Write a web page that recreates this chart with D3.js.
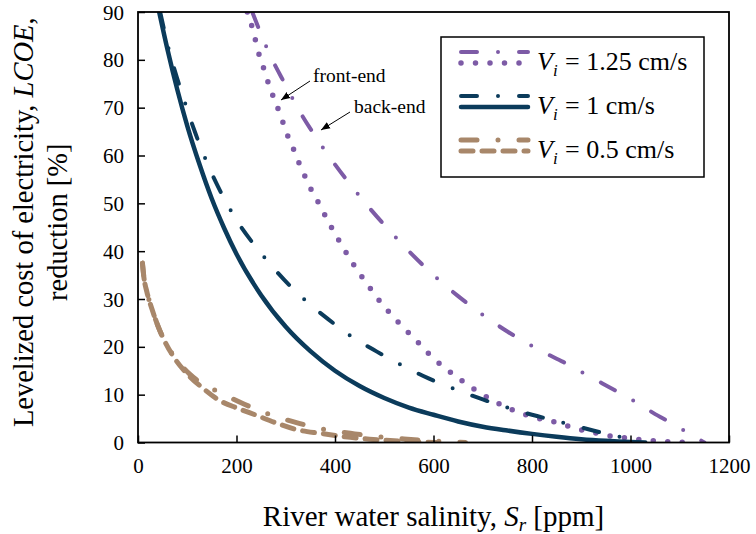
<!DOCTYPE html>
<html><head><meta charset="utf-8">
<script src="https://cdn.jsdelivr.net/npm/d3@7"></script>
<style>body{margin:0;background:#fff;} svg text{font-family:"Liberation Serif","Times New Roman",serif !important;fill:#000;}</style>
</head><body><svg id="c" width="756" height="534"></svg>
<script>
// ---- data ----
const xTicks = [0,200,400,600,800,1000,1200];
const yTicks = [0,10,20,30,40,50,60,70,80,90];
const legendLabels = ["= 1.25 cm/s","= 1 cm/s","= 0.5 cm/s"];

const purpleFrontX = [222,236,243,252,261,271,282,292,302,314,325,337,349,363,390,422,437,471,489,528,570,589,650,700,750,800,850,881,910,938,968,999,1027,1056,1086,1118];
const purpleFrontY = [90,85.2,82.1,79.3,76.3,73.3,70.4,67.6,64.6,61.8,58.9,56.1,53.4,50.8,45.5,39.8,37.3,32.3,29.8,25.2,20.8,18.7,13.5,10,7.3,5.4,4.2,3.2,2.4,1.8,1.2,0.85,0.5,0.3,0.1,0];
const purpleBackX = [232,268,296,325,355,380,450,500,550,600,650,700,750,800,850,876,911,942,979,1013,1046,1082,1117,1150];
const purpleBackY = [90,81,75.4,69.8,64.8,61,51.5,45.5,40,35,30.6,26.7,23.2,20.2,17.5,16.2,14.1,12.4,10.3,8.3,6.2,4.1,2.0,0];
const blueFrontX = [43,60,80,100,125,150,175,200,250,300,350,400,450,500,550,600,650,700,750,800,850,900,950,1000,1030];
const blueFrontY = [90,82.1,73.7,66.2,58.1,50.9,44.8,39.4,30.8,24.2,19.1,15.0,11.8,9.3,7.3,5.8,4.4,3.3,2.5,1.8,1.2,0.7,0.35,0.1,0];
const blueBackX = [45,63,79,97,116,138,162,200,248,297,341,386,433,485,537,590,650,700,750,800,853,887,928,968,1002,1012];
const blueBackY = [90,82,76.3,70.5,64.8,59,53.6,46.5,39.8,34,29.6,25.8,22.2,19,16.1,13.4,10.9,9.0,7.3,5.8,4.4,3.5,2.4,1.4,0.5,0];
const tanBackX = [9,12,18,28,40,55,75,105,130,163,216,272,327,386,440,490,540,590,630,665];
const tanBackY = [37.5,34.5,31.5,28,24.5,21,17.8,14.3,12.3,10.6,8.0,5.7,4.0,2.6,1.8,1.2,0.75,0.4,0.15,0];
const tanFrontX = [9,12,18,28,40,55,75,105,130,162,204,240,280,322,371,420,470,520,570,610];
const tanFrontY = [37.5,34.5,31.5,28,24.5,21,17.5,13.8,11.5,9.0,7.1,5.7,4.1,2.7,1.9,1.2,0.7,0.35,0.1,0];

// ---- styles ----
const FONT = '"Liberation Serif","Times New Roman",serif';
const PURPLE="#7d5ba6", BLUE="#0b3b5b", TAN="#a8876a";
const DASHDOT="16 21 0 21", DOTTED="0 14.5", DASHED="12 9";
const series = [
  {x:purpleBackX,y:purpleBackY,color:PURPLE,w:4,dash:DASHDOT},
  {x:purpleFrontX,y:purpleFrontY,color:PURPLE,w:5.5,dash:DOTTED},
  {x:blueBackX,y:blueBackY,color:BLUE,w:4,dash:DASHDOT},
  {x:blueFrontX,y:blueFrontY,color:BLUE,w:4.5,dash:null},
  {x:tanBackX,y:tanBackY,color:TAN,w:5,dash:DASHDOT},
  {x:tanFrontX,y:tanFrontY,color:TAN,w:5,dash:DASHED}
];

const svg = d3.select("#c").style("font-family",FONT);
const L=138, R=729, T=12, B=442.5;
const x = d3.scaleLinear().domain([0,1200]).range([L,R]);
const y = d3.scaleLinear().domain([0,90]).range([B,T]);

svg.append("defs").append("clipPath").attr("id","clip").append("rect")
  .attr("x",L).attr("y",T).attr("width",R-L).attr("height",B-T);

const line = d3.line().x(d=>x(d[0])).y(d=>y(d[1])).curve(d3.curveMonotoneX);
const g = svg.append("g").attr("clip-path","url(#clip)");
series.forEach(s=>{
  const pts = s.x.map((v,i)=>[v,s.y[i]]);
  g.append("path").attr("d",line(pts)).attr("fill","none")
    .attr("stroke",s.color).attr("stroke-width",s.w)
    .attr("stroke-linecap","round").attr("stroke-linejoin","round")
    .attr("stroke-dasharray",s.dash);
});

// axes (inner ticks)
const xa = svg.append("g").attr("transform",`translate(0,${B})`)
  .call(d3.axisBottom(x).tickValues(xTicks).tickSize(-7).tickPadding(0).tickFormat(d3.format("d")));
const ya = svg.append("g").attr("transform",`translate(${L},0)`)
  .call(d3.axisLeft(y).tickValues(yTicks).tickSize(-7).tickPadding(0).tickFormat(d3.format("d")));
[xa,ya].forEach(a=>{
  a.attr("font-family",FONT).style("font-family",FONT);
  a.select(".domain").remove();
  a.selectAll("line").attr("stroke","#000").attr("stroke-width",1.5);
  a.selectAll("text").attr("font-size",21).style("font-family",FONT).style("font-size","21px");
});
xa.selectAll("text").attr("y",30).attr("dy",null);
ya.selectAll("text").attr("x",-14).attr("dy","0.34em");

svg.append("rect").attr("x",L).attr("y",T).attr("width",R-L).attr("height",B-T)
  .attr("fill","none").attr("stroke","#000").attr("stroke-width",1.8);

// axis titles
const xt = svg.append("text").attr("x",(L+R)/2).attr("y",526).attr("text-anchor","middle").style("font-size","29px");
xt.append("tspan").text("River water salinity, ");
xt.append("tspan").attr("font-style","italic").text("S");
xt.append("tspan").attr("font-style","italic").style("font-size","19px").attr("dy",5).text("r");
xt.append("tspan").attr("dy",-5).text(" [ppm]");

const yt = svg.append("text").attr("transform",`translate(33,${(T+B)/2-5}) rotate(-90)`).attr("text-anchor","middle").style("font-size","28.5px");
yt.append("tspan").text("Levelized cost of electricity, ");
yt.append("tspan").attr("font-style","italic").text("LCOE");
yt.append("tspan").text(",");
svg.append("text").attr("transform",`translate(67,${(T+B)/2-5}) rotate(-90)`).attr("text-anchor","middle").style("font-size","28.5px").text("reduction [%]");

// legend
svg.append("rect").attr("x",441).attr("y",37).attr("width",263).attr("height",140)
  .attr("fill","#fff").attr("stroke","#000").attr("stroke-width",1.5);
legendLabels.forEach((lab,i)=>{
  const yy = 52 + i*44;
  const sBack = series[i*2], sFront = series[i*2+1];
  [[sBack,yy],[sFront,yy+11]].forEach(([s,ly])=>{
    svg.append("line").attr("x1",461).attr("x2",528).attr("y1",ly).attr("y2",ly)
      .attr("stroke",s.color).attr("stroke-width",s.w).attr("stroke-linecap","round")
      .attr("stroke-dasharray",s.dash);
  });
  const t = svg.append("text").attr("x",537).attr("y",yy+18).style("font-size","26px");
  t.append("tspan").attr("font-style","italic").text("V");
  t.append("tspan").attr("font-style","italic").style("font-size","17px").attr("dy",6).text("i");
  svg.append("text").attr("x",565).attr("y",yy+18).style("font-size","26px").text(lab);
});

// annotations
svg.append("defs").append("marker").attr("id","arr").attr("viewBox","0 0 10 10")
  .attr("refX",10).attr("refY",5).attr("markerWidth",9).attr("markerHeight",9)
  .attr("orient","auto").attr("markerUnits","userSpaceOnUse")
  .append("path").attr("d","M0,1 L10,5 L0,9 Z").attr("fill","#000");
const ann = [
  {label:"front-end", tx:313, ty:82, x1:310, y1:81, x2:281, y2:100},
  {label:"back-end", tx:354, ty:113, x1:350, y1:112, x2:321, y2:130}
];
ann.forEach(a=>{
  svg.append("line").attr("x1",a.x1).attr("y1",a.y1).attr("x2",a.x2).attr("y2",a.y2)
    .attr("stroke","#000").attr("stroke-width",1).attr("marker-end","url(#arr)");
  svg.append("text").attr("x",a.tx).attr("y",a.ty).style("font-size","19.5px").text(a.label);
});
</script></body></html>
